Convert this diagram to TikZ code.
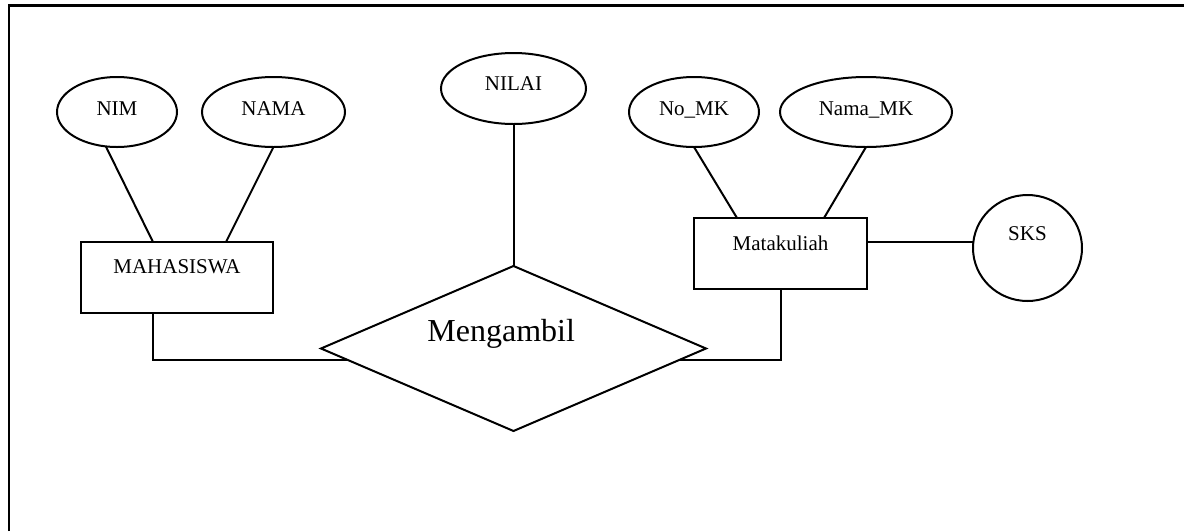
\documentclass[tikz,border=0pt]{standalone}
\usepackage{fontspec}
\setmainfont{Liberation Serif}
\usetikzlibrary{shapes.geometric}
\begin{document}
\begin{tikzpicture}[x=1pt,y=-1pt,
  every node/.style={inner sep=0pt, outer sep=0pt},
  link/.style={line width=2pt},
  attr/.style={ellipse, draw, line width=2pt, minimum height=70pt},
  entity/.style={rectangle, draw, line width=2pt, minimum height=71pt},
  relation/.style={diamond, draw, line width=2pt, minimum width=385pt, minimum height=165pt},
  lbl/.style={font=\fontsize{21}{25}\selectfont, anchor=base},
  biglbl/.style={font=\fontsize{32}{38}\selectfont, anchor=base}]
\useasboundingbox (0,0) rectangle (1184,531);
\fill[white] (0,0) rectangle (1184,531);

% page frame (top and left edges)
\draw[line width=2.6pt] (9,531) -- (9,5.7) -- (1184,5.7);

% entities
\node[entity, minimum width=192pt] (mhs) at (177,277.5) {};
\node[lbl] (mhsT) at ([yshift=4.2pt]mhs.center) {MAHASISWA};
\node[entity, minimum width=173pt] (mk) at (780.5,253.5) {};
\node[lbl] (mkT) at ([yshift=2.8pt]mk.center) {Matakuliah};

% relationship
\node[relation] (ambil) at (513.5,348.5) {};
\node[biglbl] (ambilT) at ([xshift=-12.3pt,yshift=6.8pt]ambil.center) {Mengambil};

% attributes
\node[attr, minimum width=120pt] (nim) at (117,112) {};
\node[lbl] (nimT) at ([yshift=-3pt]nim.center) {NIM};
\node[attr, minimum width=143pt] (nama) at (273.5,112) {};
\node[lbl] (namaT) at ([yshift=-3pt]nama.center) {NAMA};
\node[attr, minimum width=145pt, minimum height=71pt] (nilai) at (513.5,88.5) {};
\node[lbl] (nilaiT) at ([yshift=-2.2pt]nilai.center) {NILAI};
\node[attr, minimum width=130pt] (nomk) at (694,112) {};
\node[lbl] (nomkT) at ([yshift=-3pt]nomk.center) {No\_MK};
\node[attr, minimum width=172pt] (namamk) at (866,112) {};
\node[lbl] (namamkT) at ([yshift=-3pt]namamk.center) {Nama\_MK};
\node[attr, minimum width=109pt, minimum height=106pt] (sks) at (1027.5,248) {};
\node[lbl] (sksT) at ([yshift=8pt]sks.center) {SKS};

% attribute links
\draw[link] (nim.252) -- ([xshift=-24pt]mhs.north);
\draw[link] (nama.south) -- ([xshift=49pt]mhs.north);
\draw[link] (nilai.south) -- (ambil.north);
\draw[link] (nomk.south) -- ([xshift=-43.5pt]mk.north);
\draw[link] (namamk.south) -- ([xshift=43.5pt]mk.north);
\coordinate (mkE) at ([yshift=11.5pt]mk.east);
\draw[link] (mkE) -- (mkE -| sks.west);

% relationship links
\draw[link] ([xshift=-24pt]mhs.south) |- (ambil.184);
\draw[link] (ambil.-4) -| (mk.south);
\end{tikzpicture}
\end{document}
